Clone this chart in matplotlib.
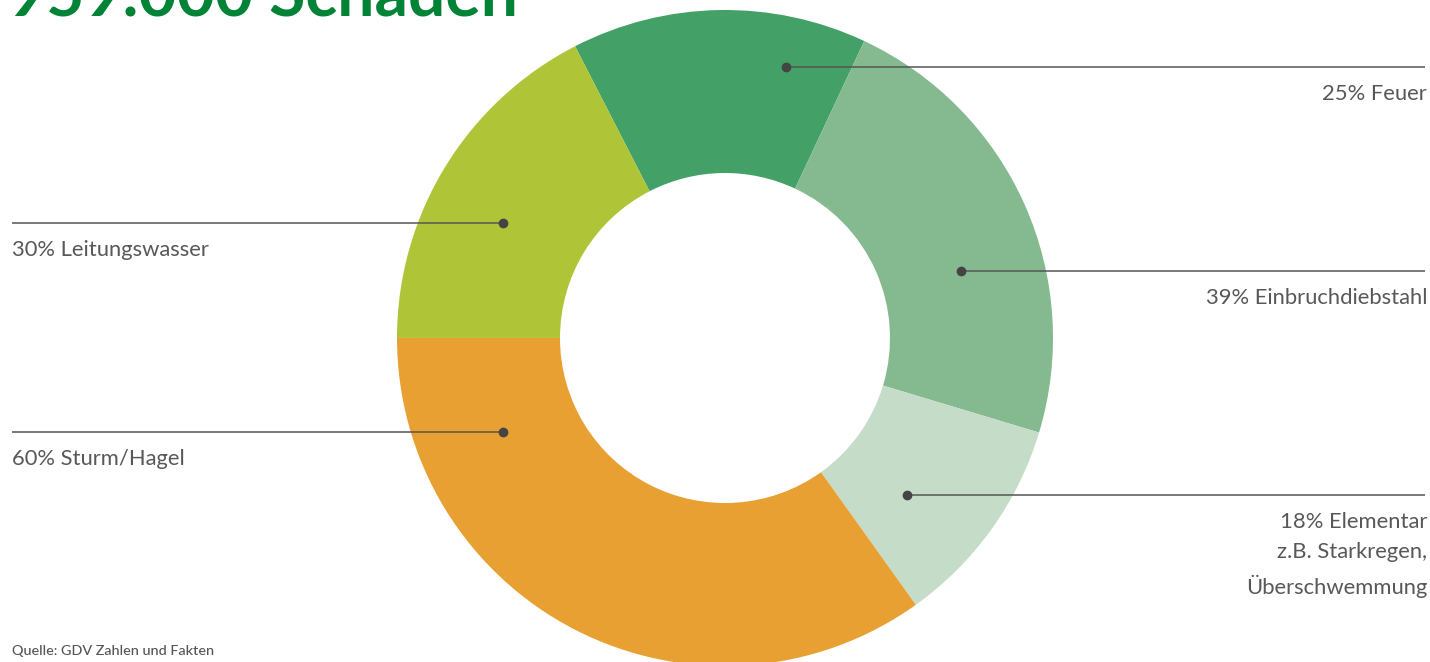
import matplotlib.pyplot as plt

# Schadenarten (Anteile in %)
labels = ['25% Feuer', '39% Einbruchdiebstahl',
          '18% Elementar\nz.B. Starkregen,\nÜberschwemmung',
          '60% Sturm/Hagel', '30% Leitungswasser']
values = [25, 39, 18, 60, 30]
colors = ['#43A167', '#85BA91', '#C5DCC8', '#E8A033', '#AFC537']

# Punkt der Beschriftungslinie (x, y in Pixeln, y von oben) und Seite
dot_pos = [(786, 67), (961, 271), (907, 495), (503, 432), (503, 223)]
side = ['right', 'right', 'right', 'left', 'left']

W, H = 1430, 662
fig = plt.figure(figsize=(W / 100, H / 100), dpi=100)
ax = fig.add_axes([0, 0, 1, 1])

# Donut (y-Achse nach unten, daher Winkel gespiegelt)
ax.pie(values, colors=colors, startangle=-117.2, counterclock=True,
       center=(725, 338), radius=328, frame=True,
       wedgeprops=dict(width=163, linewidth=0))
ax.set_xlim(0, W)
ax.set_ylim(H, 0)
ax.set_aspect('equal')
ax.axis('off')

txt = dict(family=['Lato', 'DejaVu Sans'], color='#585858', fontsize=15.8)
for lab, (x, y), s in zip(labels, dot_pos, side):
    x_end = 1425 if s == 'right' else 12
    ax.plot([x, x_end], [y, y], color='#555555', lw=1.1, solid_capstyle='butt')
    ax.plot(x, y, 'o', color='#444444', ms=6)
    if s == 'right':
        ax.text(1427, y + 17, lab, ha='right', va='top', linespacing=1.65, **txt)
    else:
        ax.text(12, y + 17, lab, ha='left', va='top', **txt)

ax.text(8, 16, '959.000 Schäden', ha='left', va='baseline', color='#008237',
        fontsize=47.5, fontweight='bold', family=['Lato', 'DejaVu Sans'])
ax.text(12, 651, 'Quelle: GDV Zahlen und Fakten', ha='left', va='center',
        color='#555555', fontsize=10.4, fontweight='medium', family=['Lato', 'DejaVu Sans'])

fig.savefig('out.png', dpi=100)
